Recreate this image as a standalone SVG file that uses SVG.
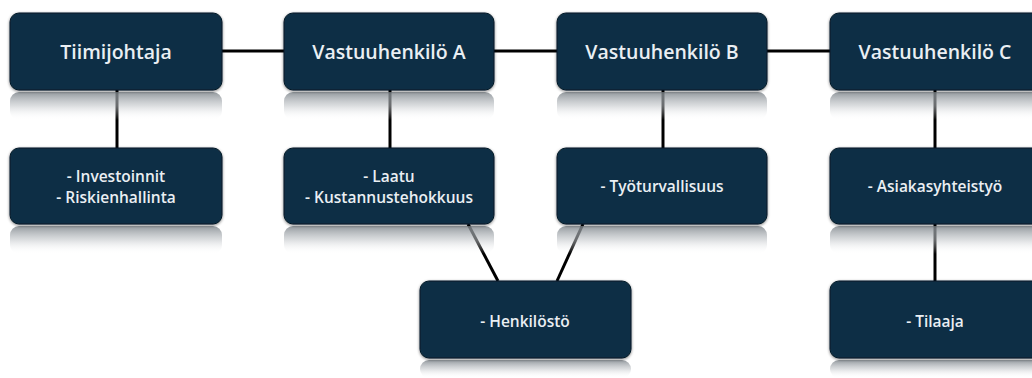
<svg xmlns="http://www.w3.org/2000/svg" width="1032" height="378" viewBox="0 0 1032 378">
<defs>
<linearGradient id="refl" x1="0" y1="0" x2="0" y2="1">
<stop offset="0" stop-color="#7f868c" stop-opacity="0.85"/>
<stop offset="0.5" stop-color="#bfc3c7" stop-opacity="0.55"/>
<stop offset="1" stop-color="#ffffff" stop-opacity="0"/>
</linearGradient>
<filter id="sh" x="-10%" y="-10%" width="120%" height="130%">
<feGaussianBlur in="SourceAlpha" stdDeviation="1.5"/>
<feOffset dy="1"/>
<feComponentTransfer><feFuncA type="linear" slope="0.5"/></feComponentTransfer>
<feMerge><feMergeNode/><feMergeNode in="SourceGraphic"/></feMerge>
</filter>
</defs>
<style>
.box{fill:#0e2e44;stroke:#061a28;stroke-width:1;filter:url(#sh)}
.refl{fill:url(#refl)}
.t1{font-family:"Open Sans","Liberation Sans",sans-serif;font-weight:600;font-size:19.5px;fill:#eaeff3;text-anchor:middle;dominant-baseline:central}
.t2{font-family:"Open Sans","Liberation Sans",sans-serif;font-weight:600;font-size:15.5px;fill:#eaeff3;text-anchor:middle;dominant-baseline:central}
.c{stroke:#000;stroke-width:3;fill:none}
</style>
<rect width="1032" height="378" fill="#ffffff"/>
<g id="connectors">
<line class="c" x1="222" y1="51" x2="284" y2="51"/>
<line class="c" x1="494" y1="51" x2="557" y2="51"/>
<line class="c" x1="767" y1="51" x2="830" y2="51"/>
<line class="c" x1="117" y1="90" x2="117" y2="148"/>
<line class="c" x1="390" y1="90" x2="390" y2="148"/>
<line class="c" x1="663" y1="90" x2="663" y2="148"/>
<line class="c" x1="935" y1="90" x2="935" y2="148"/>
<line class="c" x1="935" y1="224" x2="935" y2="281"/>
<line class="c" x1="468" y1="224" x2="498" y2="281"/>
<line class="c" x1="583" y1="224" x2="557" y2="281"/>
</g>
<g id="n-tiimijohtaja">
<rect class="refl" x="10" y="92" width="212" height="28" rx="9"/>
<rect class="box" x="10" y="13" width="212" height="77" rx="9"/>
<text class="t1" x="116" y="51">Tiimijohtaja</text>
</g>
<g id="n-vastuu-a">
<rect class="refl" x="284" y="92" width="210" height="28" rx="9"/>
<rect class="box" x="284" y="13" width="210" height="77" rx="9"/>
<text class="t1" x="389" y="51">Vastuuhenkilö A</text>
</g>
<g id="n-vastuu-b">
<rect class="refl" x="557" y="92" width="210" height="28" rx="9"/>
<rect class="box" x="557" y="13" width="210" height="77" rx="9"/>
<text class="t1" x="662" y="51">Vastuuhenkilö B</text>
</g>
<g id="n-vastuu-c">
<rect class="refl" x="830" y="92" width="212" height="28" rx="9"/>
<rect class="box" x="830" y="13" width="212" height="77" rx="9"/>
<text class="t1" x="935" y="51">Vastuuhenkilö C</text>
</g>
<g id="n-investoinnit">
<rect class="refl" x="10" y="226" width="212" height="28" rx="9"/>
<rect class="box" x="10" y="148" width="212" height="76" rx="9"/>
<text class="t2" x="116" y="176">- Investoinnit</text>
<text class="t2" x="116" y="197">- Riskienhallinta</text>
</g>
<g id="n-laatu">
<rect class="refl" x="284" y="226" width="210" height="28" rx="9"/>
<rect class="box" x="284" y="148" width="210" height="76" rx="9"/>
<text class="t2" x="389" y="176">- Laatu</text>
<text class="t2" x="389" y="197">- Kustannustehokkuus</text>
</g>
<g id="n-tyoturvallisuus">
<rect class="refl" x="557" y="226" width="210" height="28" rx="9"/>
<rect class="box" x="557" y="148" width="210" height="76" rx="9"/>
<text class="t2" x="662" y="186">- Työturvallisuus</text>
</g>
<g id="n-asiakas">
<rect class="refl" x="830" y="226" width="212" height="28" rx="9"/>
<rect class="box" x="830" y="148" width="212" height="76" rx="9"/>
<text class="t2" x="935" y="186">- Asiakasyhteistyö</text>
</g>
<g id="n-henkilosto">
<rect class="refl" x="420" y="360" width="211" height="18" rx="9"/>
<rect class="box" x="420" y="281" width="211" height="77" rx="9"/>
<text class="t2" x="525" y="321">- Henkilöstö</text>
</g>
<g id="n-tilaaja">
<rect class="refl" x="830" y="360" width="212" height="18" rx="9"/>
<rect class="box" x="830" y="281" width="212" height="77" rx="9"/>
<text class="t2" x="935" y="321">- Tilaaja</text>
</g>
</svg>
